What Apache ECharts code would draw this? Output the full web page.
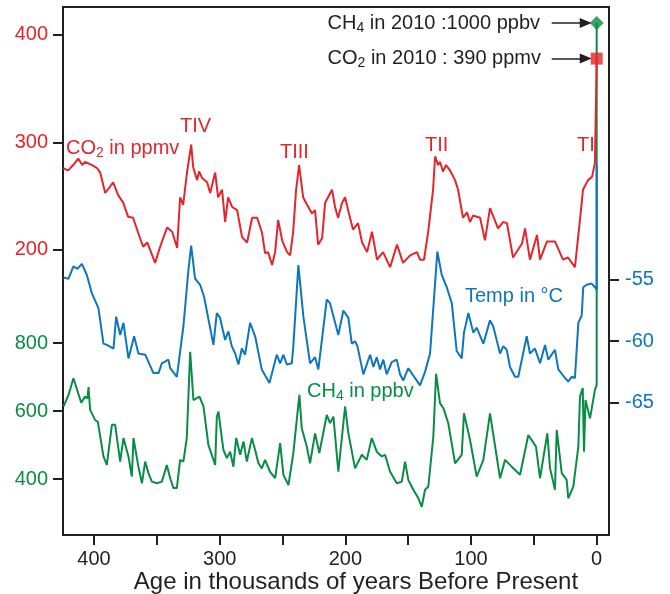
<!DOCTYPE html>
<html><head><meta charset="utf-8">
<script src="https://cdn.jsdelivr.net/npm/echarts@6/dist/echarts.min.js"></script>
<style>html,body{margin:0;padding:0;background:#fff}#c{width:670px;height:594px}</style>
</head><body><div id="c"></div>
<script>
// ---- data (age in thousand years BP, value) ----
const co2Series = [[424.6,276],[420.6,274],[416.6,279],[412.6,285],[409.4,279],[407.1,282],[401.5,279],[397.5,276],[395.1,272],[391.1,253],[387.2,259],[384.8,263],[380.8,251],[376.8,244],[372.9,231],[368.9,230],[364.9,216],[360.9,203],[357.7,207],[351.4,188],[347.4,203],[341.8,221],[337.8,217],[333.9,202],[331.5,249],[329.1,242],[325.9,273],[322.7,298],[321.1,277],[318.0,265],[316.4,273],[314.0,267],[310.0,263],[307.6,253],[303.6,272],[301.3,249],[298.1,256],[295.7,226],[293.3,249],[290.1,240],[286.1,237],[282.2,212],[278.2,207],[274.2,230],[270.2,230],[266.3,216],[263.9,197],[261.5,198],[258.3,186],[255.9,198],[253.5,228],[250.3,209],[246.4,198],[244.0,195],[241.6,216],[239.2,256],[236.8,279],[233.6,249],[230.5,242],[226.5,234],[224.1,237],[221.7,205],[218.5,211],[216.1,244],[213.8,249],[210.6,256],[208.2,240],[205.8,230],[202.6,244],[200.2,249],[197.8,237],[193.9,219],[189.9,225],[186.7,207],[182.7,198],[178.8,217],[174.8,191],[170.0,198],[164.4,184],[158.9,205],[154.1,188],[148.5,195],[143.0,198],[140.6,191],[137.4,191],[134.2,216],[130.2,256],[128.6,287],[126.2,279],[124.7,282],[122.3,273],[119.9,279],[116.7,274],[112.7,265],[110.3,256],[106.4,230],[103.2,235],[100.8,226],[98.4,232],[92.8,230],[88.9,209],[84.9,239],[78.5,220],[74.5,226],[71.4,225],[66.6,193],[59.4,206],[57.0,220],[53.1,191],[47.5,214],[45.1,191],[39.5,208],[33.2,208],[26.8,191],[22.8,193],[17.3,184],[13.3,228],[10.9,256],[6.9,265],[3.7,268],[1.4,281],[0,280]];
const tempSeries = [[424.3,-54.8],[420.3,-54.9],[416.4,-53.9],[413.2,-54.1],[409.7,-53.7],[405.7,-54.6],[401.7,-56.1],[396.5,-57.3],[392.5,-60.2],[389.8,-60.3],[384.5,-60.6],[382.4,-58.0],[379.2,-59.5],[376.6,-58.5],[372.6,-61.4],[368.1,-59.6],[364.7,-61.0],[359.3,-61.1],[352.7,-62.6],[348.7,-62.6],[346.0,-61.8],[340.8,-61.5],[339.4,-62.2],[334.1,-62.9],[328.9,-58.8],[324.9,-54.2],[322.7,-52.2],[319.6,-54.9],[315.6,-55.4],[312.4,-56.4],[305.0,-60.3],[302.3,-57.7],[299.7,-58.1],[295.7,-59.9],[293.1,-59.2],[290.4,-60.4],[287.7,-61.0],[285.1,-61.9],[282.4,-60.6],[279.8,-61.1],[275.8,-58.5],[271.8,-59.6],[266.5,-62.3],[260.4,-63.4],[254.6,-61.1],[251.9,-61.8],[249.3,-61.1],[246.6,-61.9],[242.6,-61.8],[241.4,-60.4],[237.4,-53.8],[233.4,-58.0],[228.1,-61.8],[224.1,-61.3],[221.5,-62.3],[214.8,-56.6],[212.2,-56.9],[205.6,-59.5],[201.6,-57.5],[197.6,-58.1],[194.9,-60.2],[192.3,-60.0],[190.4,-60.4],[185.7,-62.7],[180.3,-61.1],[177.7,-62.1],[175.0,-61.3],[172.4,-62.3],[169.8,-61.5],[167.1,-62.7],[163.1,-61.7],[159.1,-61.5],[156.5,-62.7],[153.9,-63.2],[149.9,-62.2],[140.6,-63.6],[136.6,-62.5],[132.6,-61.0],[126.8,-52.7],[123.3,-54.6],[119.3,-55.6],[115.3,-56.9],[111.4,-60.8],[107.4,-61.4],[105.6,-59.3],[102.1,-57.7],[98.2,-59.3],[95.5,-58.9],[90.2,-60.2],[84.9,-58.3],[82.3,-58.8],[76.9,-61.0],[74.3,-60.4],[71.6,-60.7],[69.0,-62.1],[65.0,-62.9],[62.4,-62.9],[55.7,-59.6],[53.1,-61.0],[49.1,-60.6],[45.1,-61.8],[41.1,-60.3],[38.5,-61.5],[33.2,-60.7],[30.5,-62.3],[25.2,-63.0],[22.6,-63.3],[19.9,-62.9],[17.3,-63.0],[14.6,-58.5],[11.9,-57.9],[10.7,-55.6],[8.0,-55.4],[4.0,-55.3],[1.4,-55.6],[0,-55.8]];
const ch4Series = [[424.3,614],[420.3,648],[416.4,697],[410.2,625],[407.1,643],[405.2,638],[404.4,671],[403.1,604],[399.1,574],[397.0,569],[392.5,467],[389.8,442],[385.8,560],[383.2,560],[379.2,452],[376.6,521],[372.6,467],[369.9,408],[368.6,521],[364.7,437],[361.9,388],[359.3,452],[356.7,418],[354.0,393],[350.0,388],[346.0,393],[342.1,442],[339.4,403],[336.8,374],[334.1,374],[331.5,457],[328.9,452],[326.2,521],[323.5,775],[320.9,633],[316.1,643],[312.9,614],[309.0,501],[303.6,442],[302.3,584],[301.0,599],[298.3,521],[297.0,486],[294.3,462],[291.7,481],[289.1,437],[286.9,521],[283.7,472],[281.1,511],[278.4,452],[274.4,521],[271.8,486],[269.2,447],[266.5,432],[263.9,457],[259.9,422],[255.9,403],[251.9,506],[249.3,413],[245.3,383],[241.4,477],[236.6,648],[234.7,550],[230.7,496],[228.1,447],[224.1,535],[220.7,477],[214.8,589],[212.2,565],[209.5,584],[205.6,422],[200.2,614],[197.6,535],[192.3,432],[186.9,472],[183.0,457],[179.0,521],[175.0,481],[171.0,467],[168.4,472],[164.4,422],[159.1,388],[155.1,393],[152.5,452],[149.9,398],[145.9,369],[141.9,344],[139.2,319],[136.6,369],[134.0,378],[130.0,525],[127.8,710],[124.7,624],[122.0,609],[118.1,565],[112.7,447],[107.4,472],[105.6,594],[100.8,516],[95.5,408],[90.2,457],[84.9,594],[76.9,403],[72.9,457],[67.6,437],[61.0,413],[54.4,530],[48.3,496],[45.1,403],[39.3,535],[37.1,432],[33.2,369],[31.8,545],[27.8,418],[23.9,398],[22.6,344],[18.6,378],[14.6,496],[13.3,643],[11.1,668],[10.1,481],[8.9,633],[5.3,579],[1.4,663],[0,677]];
// present-day (2010) markers as drawn in the picture (not to scale), in each axis's units
const co2Marker = 378;
const ch4Marker = 1742;
const tempLink = -45.6;
// arrows: from age to age
const arrowFrom = 35.8, arrowTo = 8.7;
// ticks
const xTicks = [0,50,100,150,200,250,300,350,400];
const xLabels = [0,100,200,300,400];
const co2Ticks = [200,300,400];
const ch4Ticks = [400,600,800];
const tempTicks = [-65,-60,-55];

const RED = '#e3262b', BLUE = '#0e76bc', GREEN = '#098c45', BLACK = '#231f20';
const FF = '"Liberation Sans", Arial, Helvetica, sans-serif';

function yAx(min, max, pos, ticks, color, margin) {
  return {
    type: 'value', position: pos, min: min, max: max,
    axisLine: {show: true, onZero: false, lineStyle: {color: BLACK, width: 2}},
    axisTick: {show: true, length: 10, customValues: ticks, lineStyle: {color: BLACK, width: 2}},
    axisLabel: {customValues: ticks, color: color, fontSize: 20, fontFamily: FF, margin: margin},
    splitLine: {show: false}
  };
}
function txt(x, y, text, color, size, align) {
  return {type: 'text', x: x, y: y, z: 20, style: {text: text, fill: color, font: size + 'px ' + FF,
    textAlign: align, align: align, textVerticalAlign: 'middle', verticalAlign: 'middle'}};
}
function subTxt(x, y, pre, sub, post, color, align) {
  const a = {fontSize: 20, fontFamily: FF, lineHeight: 24, fill: color, color: color};
  const s = {fontSize: 14, fontFamily: FF, lineHeight: 11, verticalAlign: 'bottom', fill: color, color: color};
  return {type: 'text', x: x, y: y, z: 20, style: {text: '{a|' + pre + '}{s|' + sub + '}{a|' + post + '}',
    rich: {a: a, s: s}, fill: color, textAlign: align, align: align, textVerticalAlign: 'middle', verticalAlign: 'middle'}};
}

const chart = echarts.init(document.getElementById('c'), null, {renderer: 'canvas'});
chart.setOption({
  animation: false,
  backgroundColor: '#fff',
  grid: {left: 63, right: 61, top: 7, bottom: 59, show: true, borderColor: BLACK, borderWidth: 2},
  xAxis: {
    type: 'value', inverse: true, min: -9.8, max: 424.7, position: 'bottom',
    axisLine: {show: true, onZero: false, lineStyle: {color: BLACK, width: 2}},
    axisTick: {show: true, length: 10, customValues: xTicks, lineStyle: {color: BLACK, width: 2}},
    axisLabel: {customValues: xLabels, color: BLACK, fontSize: 20, fontFamily: FF, margin: 14},
    splitLine: {show: false}
  },
  yAxis: [
    yAx(-65.1, 426, 'left', co2Ticks, RED, 15),
    yAx(236, 1789, 'left', ch4Ticks, GREEN, 15),
    yAx(-75.8, -32.75, 'right', tempTicks, BLUE, 16)
  ],
  series: [
    {type: 'line', yAxisIndex: 1, data: ch4Series.concat([[0, ch4Marker]]), symbol: 'none',
      lineStyle: {color: GREEN, width: 2}, z: 2},
    {type: 'line', yAxisIndex: 2, data: tempSeries.concat([[0, tempLink]]), symbol: 'none',
      lineStyle: {color: BLUE, width: 2}, z: 3},
    {type: 'line', yAxisIndex: 0, data: co2Series.concat([[0, co2Marker]]), symbol: 'none',
      lineStyle: {color: RED, width: 2}, z: 4},
    {type: 'scatter', yAxisIndex: 1, data: [[0, ch4Marker]], symbol: 'diamond', symbolSize: 14,
      itemStyle: {color: GREEN}, z: 6,
      markLine: {silent: true, symbol: ['none', 'triangle'], symbolSize: [10, 12], label: {show: false},
        lineStyle: {color: BLACK, width: 1.5, type: 'solid'},
        data: [[{coord: [arrowFrom, ch4Marker]}, {coord: [arrowTo, ch4Marker]}]]}},
    {type: 'scatter', yAxisIndex: 0, data: [[0, co2Marker]], symbol: 'rect', symbolSize: 12,
      itemStyle: {color: RED}, z: 6,
      markLine: {silent: true, symbol: ['none', 'triangle'], symbolSize: [10, 12], label: {show: false},
        lineStyle: {color: BLACK, width: 1.5, type: 'solid'},
        data: [[{coord: [arrowFrom, co2Marker]}, {coord: [arrowTo, co2Marker]}]]}}
  ],
  graphic: [
    subTxt(66, 148, 'CO', '2', ' in ppmv', RED, 'left'),
    txt(180, 126, 'TIV', RED, 20, 'left'),
    txt(280, 152, 'TIII', RED, 20, 'left'),
    txt(425, 145, 'TII', RED, 20, 'left'),
    txt(577, 145, 'TI', RED, 20, 'left'),
    txt(465, 296, 'Temp in °C', BLUE, 20, 'left'),
    subTxt(307, 391, 'CH', '4', ' in ppbv', GREEN, 'left'),
    subTxt(540, 23, 'CH', '4', ' in 2010 :1000 ppbv', BLACK, 'right'),
    subTxt(541, 58, 'CO', '2', ' in 2010 : 390 ppmv', BLACK, 'right'),
    txt(356, 582, 'Age in thousands of years Before Present', BLACK, 24, 'center')
  ]
});
</script></body></html>
